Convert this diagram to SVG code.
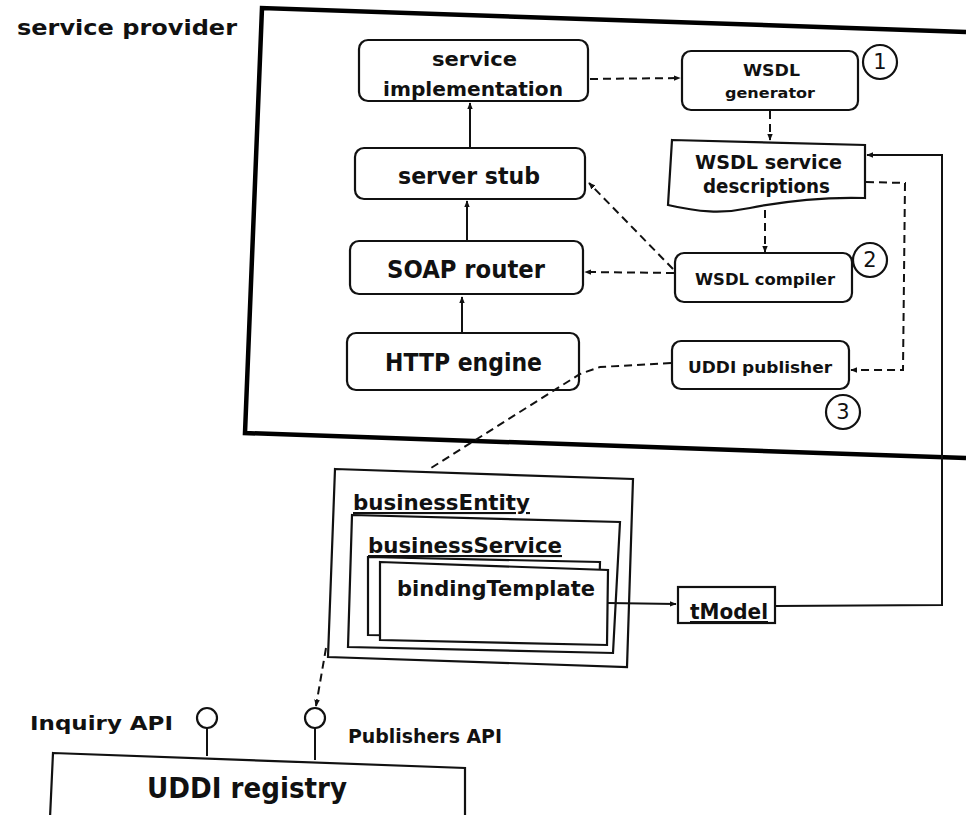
<svg xmlns="http://www.w3.org/2000/svg" width="966" height="815" viewBox="0 0 966 815">
<style>
text{font-family:"DejaVu Sans","Liberation Sans",sans-serif;font-weight:bold;fill:#111;}
.box{fill:#fff;stroke:#111;stroke-width:2.2;}
.ln{fill:none;stroke:#111;stroke-width:2;}
.dash{fill:none;stroke:#111;stroke-width:2;stroke-dasharray:8,5;}
.frame{fill:none;stroke:#000;stroke-width:4.5;}
.num{font-weight:normal;font-size:21px;}
</style>
<defs>
<marker id="ah" viewBox="0 0 10 10" refX="9" refY="5" markerWidth="7" markerHeight="7" orient="auto" markerUnits="userSpaceOnUse">
<path d="M0,1 L10,5 L0,9 Z" fill="#111"/>
</marker>
</defs>
<rect width="966" height="815" fill="#fff"/>

<g id="service-provider">
<polyline class="frame" points="966,32 262,8 245,433 966,458"/>
<text x="17" y="35" font-size="22" textLength="220" lengthAdjust="spacingAndGlyphs">service provider</text>
</g>

<g id="service-implementation">
<rect class="box" x="359" y="40" width="229" height="61" rx="9"/>
<text x="432" y="66" font-size="20" textLength="85" lengthAdjust="spacingAndGlyphs">service</text>
<text x="383" y="96" font-size="20" textLength="180" lengthAdjust="spacingAndGlyphs">implementation</text>
</g>
<g id="server-stub">
<rect class="box" x="355" y="148" width="230" height="51" rx="9"/>
<text x="398" y="184" font-size="23" textLength="142" lengthAdjust="spacingAndGlyphs">server stub</text>
</g>
<g id="soap-router">
<rect class="box" x="350" y="241" width="233" height="53" rx="9"/>
<text x="387" y="278" font-size="24" textLength="158" lengthAdjust="spacingAndGlyphs">SOAP router</text>
</g>
<g id="http-engine">
<rect class="box" x="347" y="333" width="232" height="57" rx="9"/>
<text x="385" y="371" font-size="25" textLength="157" lengthAdjust="spacingAndGlyphs">HTTP engine</text>
</g>

<g id="wsdl-generator">
<rect class="box" x="682" y="51" width="176" height="59" rx="9"/>
<text x="743" y="76" font-size="16" textLength="57" lengthAdjust="spacingAndGlyphs">WSDL</text>
<text x="725" y="98" font-size="14" textLength="90" lengthAdjust="spacingAndGlyphs">generator</text>
<circle class="box" cx="880" cy="62" r="17"/>
<text class="num" x="880" y="69" text-anchor="middle">1</text>
</g>
<g id="wsdl-service-descriptions">
<path class="box" d="M672,140 L865,145 L865,198 C830,197 790,200 750,208 C722,214 698,212 668,205 Z"/>
<text x="695" y="169" font-size="19" textLength="147" lengthAdjust="spacingAndGlyphs">WSDL service</text>
<text x="703" y="193" font-size="19" textLength="127" lengthAdjust="spacingAndGlyphs">descriptions</text>
</g>
<g id="wsdl-compiler">
<rect class="box" x="675" y="253" width="177" height="49" rx="9"/>
<text x="695" y="285" font-size="16" textLength="140" lengthAdjust="spacingAndGlyphs">WSDL compiler</text>
<circle class="box" cx="870" cy="260" r="17"/>
<text class="num" x="870" y="267" text-anchor="middle">2</text>
</g>
<g id="uddi-publisher">
<rect class="box" x="672" y="341" width="177" height="48" rx="9"/>
<text x="688" y="373" font-size="15" textLength="144" lengthAdjust="spacingAndGlyphs">UDDI publisher</text>
<circle class="box" cx="843" cy="412" r="17"/>
<text class="num" x="843" y="419" text-anchor="middle">3</text>
</g>

<g id="business-entity">
<polygon class="box" points="335,469 633,479 627,667 328,657"/>
<text x="353" y="510" font-size="21" textLength="177" lengthAdjust="spacingAndGlyphs" text-decoration="underline">businessEntity</text>
<polygon class="box" points="352,515 620,522 613,653 348,647"/>
<text x="368" y="553" font-size="21" textLength="194" lengthAdjust="spacingAndGlyphs" text-decoration="underline">businessService</text>
</g>
<g id="binding-template">
<polygon class="box" points="368,557 600,562 598,638 368,635"/>
<polygon class="box" points="380,562 608,570 607,645 380,640"/>
<text x="397" y="596" font-size="22" textLength="198" lengthAdjust="spacingAndGlyphs">bindingTemplate</text>
</g>
<g id="tmodel">
<rect class="box" x="678" y="587" width="97" height="36"/>
<text x="690" y="619" font-size="21" textLength="78" lengthAdjust="spacingAndGlyphs" text-decoration="underline">tModel</text>
</g>

<g id="uddi-registry">
<polygon class="box" points="53,753 465,768 465,818 50,818"/>
<text x="147" y="798" font-size="28" textLength="200" lengthAdjust="spacingAndGlyphs">UDDI registry</text>
<line class="ln" x1="207" y1="728" x2="207" y2="756"/>
<circle class="box" cx="207" cy="718" r="10"/>
<text x="30" y="730" font-size="19" textLength="143" lengthAdjust="spacingAndGlyphs">Inquiry API</text>
<line class="ln" x1="315" y1="728" x2="315" y2="760"/>
<circle class="box" cx="315" cy="718" r="10"/>
<text x="348" y="743" font-size="19" textLength="154" lengthAdjust="spacingAndGlyphs">Publishers API</text>
</g>

<g id="connectors">
<path class="ln" d="M462,332 L462,297" marker-end="url(#ah)"/>
<path class="ln" d="M467,240 L467,201" marker-end="url(#ah)"/>
<path class="ln" d="M470,147 L470,103" marker-end="url(#ah)"/>
<path class="dash" d="M590,79 L680,78" marker-end="url(#ah)"/>
<path class="dash" d="M770,111 L770,140" marker-end="url(#ah)"/>
<path class="dash" d="M765,210 L765,252" marker-end="url(#ah)"/>
<path class="dash" d="M673,269 L589,183" marker-end="url(#ah)"/>
<path class="dash" d="M674,273 L585,272" marker-end="url(#ah)"/>
<path class="dash" d="M866,182 L905,183 L903,370 L851,370" marker-end="url(#ah)"/>
<path class="dash" d="M671,363 L600,367 L580,374 L431,468"/>
<path class="dash" d="M326,648 L316,706" marker-end="url(#ah)"/>
<path class="ln" d="M608,603 L676,604" marker-end="url(#ah)"/>
<path class="ln" d="M776,606 L942,605 L942,155 L867,155" marker-end="url(#ah)"/>
</g>
</svg>
